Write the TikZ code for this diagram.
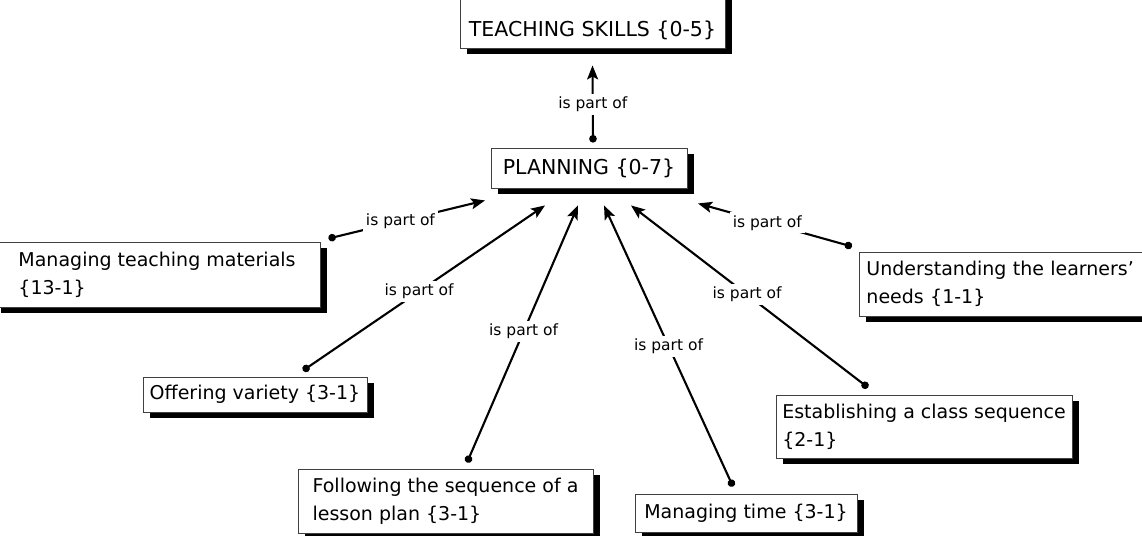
\documentclass[tikz,border=0pt]{standalone}
\usepackage{fontspec}
\setmainfont{DejaVu Sans}
\usetikzlibrary{arrows.meta,shadows}
\begin{document}
\begin{tikzpicture}[x=1pt,y=-1pt,
  concept/.style={draw=black!75, line width=0.9pt, fill=white, align=left, inner sep=0pt,
    drop shadow={shadow xshift=7pt, shadow yshift=-6pt, fill=black, opacity=1},
    font=\fontsize{19}{28}\selectfont},
  bigconcept/.style={concept, font=\fontsize{20.5}{26}\selectfont},
  link/.style={line width=2.1pt, {Circle[length=7.5pt]}-{Stealth[length=14pt,width=11pt,inset=3pt]}},
  lbl/.style={fill=white, inner sep=3pt, font=\fontsize{15.5}{18}\selectfont}]

\useasboundingbox (0,0) rectangle (1142,535);

% concepts
\node[bigconcept, anchor=base, minimum width=265pt, text height=43pt, text depth=11pt]
  (ts) at (592.5,37) {TEACHING SKILLS \{0-5\}};
\node[bigconcept, minimum width=196pt, minimum height=40pt] (pl) at (589,168) {PLANNING \{0-7\}};
\node[concept, minimum width=326pt, minimum height=65pt] (mtm) at (157,274.5)
  {Managing teaching materials\\\{13-1\}};
\node[concept, minimum width=224pt, minimum height=35pt] (ov) at (255,394.5)
  {Offering variety \{3-1\}};
\node[concept, minimum width=295pt, minimum height=64pt] (fs) at (445.5,501)
  {Following the sequence of a\\lesson plan \{3-1\}};
\node[concept, minimum width=222pt, minimum height=38pt] (mt) at (746,513)
  {Managing time \{3-1\}};
\node[concept, minimum width=296pt, minimum height=63pt] (es) at (924,426.5)
  {Establishing a class sequence\\\{2-1\}};
\node[concept, anchor=west, inner xsep=7pt, text width=300pt, minimum height=64pt] (un) at (859,284)
  {Understanding the learners'\\needs \{1-1\}};

% connector ends
\coordinate (pl-out) at ([xshift=4pt,yshift=5pt]pl.north);
\coordinate (ts-in)  at ([yshift=-17pt]ts.south);
\coordinate (mtm-out) at ([xshift=8pt,yshift=3pt]mtm.north east);
\coordinate (ov-out)  at ([xshift=48pt,yshift=6pt]ov.north);
\coordinate (fs-out)  at ([xshift=21.5pt,yshift=6pt]fs.north);
\coordinate (mt-out)  at ([xshift=-13pt,yshift=7pt]mt.north);
\coordinate (es-out)  at ([xshift=-56pt,yshift=7pt]es.north);
\coordinate (un-out)  at ([xshift=-7pt,yshift=5pt]un.north west);
\coordinate (pl-in1) at ([xshift=-104pt,yshift=-12pt]pl.south);
\coordinate (pl-in2) at ([xshift=-44pt,yshift=-17pt]pl.south);
\coordinate (pl-in3) at ([xshift=-11pt,yshift=-17pt]pl.south);
\coordinate (pl-in4) at ([xshift=15pt,yshift=-17pt]pl.south);
\coordinate (pl-in5) at ([xshift=42pt,yshift=-17pt]pl.south);
\coordinate (pl-in6) at ([xshift=109pt,yshift=-15pt]pl.south);

% links
\draw[link] (pl-out)  -- node[lbl, pos=0.5]  {is part of} (ts-in);
\draw[link] (mtm-out) -- node[lbl, pos=0.46] {is part of} (pl-in1);
\draw[link] (ov-out)  -- node[lbl, pos=0.48] {is part of} (pl-in2);
\draw[link] (fs-out)  -- node[lbl, pos=0.51] {is part of} (pl-in3);
\draw[link] (mt-out)  -- node[lbl, pos=0.5]  {is part of} (pl-in4);
\draw[link] (es-out)  -- node[lbl, pos=0.51] {is part of} (pl-in5);
\draw[link] (un-out)  -- node[lbl, pos=0.55] {is part of} (pl-in6);
\end{tikzpicture}
\end{document}
